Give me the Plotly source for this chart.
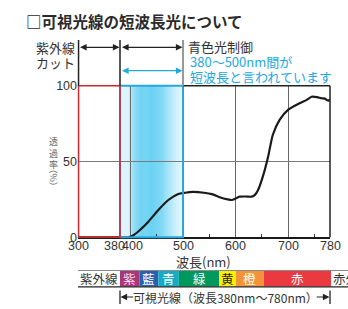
import numpy as np
import plotly.graph_objects as go

# ---------------- data ----------------
WAVELENGTH = [300, 340, 380, 396, 405, 418, 434, 453, 472, 491, 504, 519, 540, 555, 570,
              585, 593, 600, 608, 620, 631, 637, 643, 652, 662, 671, 684, 700, 722, 735,
              745, 755, 764, 770, 777, 780]
TRANSMITTANCE = [0, 0, 0, 0, 1.2, 4.8, 10.3, 18, 24.6, 28.6, 29.4, 29.9, 29.4, 28.5, 26.4,
                 25, 24.6, 25.6, 26.8, 26.9, 26.8, 28, 31.2, 40, 53, 67.5, 77.4, 84, 88.4, 90.5,
                 92.7, 92.5, 91.7, 91.5, 90.1, 91]

X_TICKS = [300, 380, 400, 500, 600, 700, 780]
X_TICK_LABELS = ["300", "380", "400", "500", "600", "700", "780"]
X_GRID = [400, 500, 600, 700]
Y_TICKS = [0, 50, 100]
MINOR_TICKS = [450, 550, 650, 750]

BAND_LABELS = ["紫外線", "紫", "藍", "青", "緑", "黄", "橙", "赤"]
BAND_EDGES = [300, 380, 417, 453, 492, 569, 601, 654, 782]
BAND_COLORS = ["#ffffff", "#a8377a", "#2961ae", "#14abc4", "#00985f", "#fff000", "#f39438", "#ea3a3f"]
BAND_TEXT_COLORS = ["#333333", "#f6dce8", "#ffffff", "#ffffff", "#ffffff", "#222222", "#ffffff", "#ffffff"]
IR_LABEL = "赤外線"
IR_END = 900

GRAD_NM = [380, 396, 400, 406, 420, 445, 460, 480, 500]
GRAD_LEVEL = [0.22, 0.25, 0.4, 0.75, 0.95, 1.0, 0.85, 0.45, 0.15]

# ---------------- layout geometry ----------------
W, H = 348, 309
ML = 78
PX_PER_NM = 0.525
X_MIN, X_MAX = 300, 780
PLOT_RIGHT = ML + (X_MAX - X_MIN) * PX_PER_NM
PLOT_TOP, PLOT_BOTTOM = 85.7, 237.3


def px_x(px):
    return (px - ML) / (W - ML)


def px_y(py):
    return (H - py) / H


def nm_x(nm):
    return px_x(ML + (nm - X_MIN) * PX_PER_NM)


def val_y(v):
    return px_y(PLOT_BOTTOM - v / 100 * (PLOT_BOTTOM - PLOT_TOP))


CJK = "Noto Sans CJK JP"
NUM = "Liberation Sans, Noto Sans CJK JP"
CYAN = "#22a9e1"
TXT = "#333333"

fig = go.Figure()

# transmittance curve
fig.add_trace(go.Scatter(x=WAVELENGTH, y=TRANSMITTANCE, mode="lines",
                         line=dict(color="#1a1a1a", width=2.2, shape="spline", smoothing=0.6),
                         hoverinfo="skip", showlegend=False))

# spectrum band (bars on a second axis pair)
starts = BAND_EDGES[:-1] + [BAND_EDGES[-1]]
widths = [b - a for a, b in zip(BAND_EDGES[:-1], BAND_EDGES[1:])] + [IR_END - BAND_EDGES[-1]]
colors = BAND_COLORS + ["#ffffff"]
fig.add_trace(go.Bar(orientation="h", y=[0] * len(widths), x=widths, base=starts,
                     marker=dict(color=colors, line=dict(width=0)), width=1,
                     xaxis="x2", yaxis="y2", hoverinfo="skip", showlegend=False))

shapes = []
# gradient in the short-wavelength region
lo = np.array([255, 255, 255])
hi = np.array([0x3a, 0xc3, 0xf0])
for a in range(GRAD_NM[0], GRAD_NM[-1]):
    lev = float(np.interp(a + 0.5, GRAD_NM, GRAD_LEVEL))
    c = (lo + (hi - lo) * lev).astype(int)
    shapes.append(dict(type="rect", xref="x", yref="y", x0=a, x1=a + 1, y0=0, y1=100,
                       fillcolor=f"rgb({c[0]},{c[1]},{c[2]})", line=dict(width=0), layer="below"))

# cyan outline 380-500
shapes.append(dict(type="rect", xref="paper", yref="paper", x0=nm_x(380), x1=nm_x(500),
                   y0=val_y(0), y1=val_y(100), line=dict(color="#2aa6da", width=2), layer="above"))
# black frame on right part
shapes.append(dict(type="line", xref="paper", yref="paper", x0=nm_x(500), x1=nm_x(780),
                   y0=val_y(100), y1=val_y(100), line=dict(color="#222222", width=1.5)))
shapes.append(dict(type="line", xref="paper", yref="paper", x0=nm_x(780), x1=nm_x(780),
                   y0=val_y(0), y1=val_y(100), line=dict(color="#222222", width=1.5)))
# red UV-cut rectangle
shapes.append(dict(type="rect", xref="paper", yref="paper", x0=nm_x(300) + 0.002, x1=nm_x(380),
                   y0=val_y(0), y1=val_y(100), line=dict(color="#d2262c", width=1.5), layer="above"))
# vertical guide lines above plot
for nm, col in [(300, "#222222"), (380, "#222222"), (500, "#999999")]:
    dx = 0.002 if nm == 300 else 0
    shapes.append(dict(type="line", xref="paper", yref="paper", x0=nm_x(nm) + dx,
                       x1=nm_x(nm) + dx, y0=px_y(40), y1=val_y(100),
                       line=dict(color=col, width=1.5 if nm != 500 else 2)))
# band borders
shapes.append(dict(type="line", xref="paper", yref="paper", x0=0, x1=1, y0=px_y(270.5), y1=px_y(270.5),
                   line=dict(color="#8a8a8a", width=1.2)))
shapes.append(dict(type="line", xref="paper", yref="paper", x0=0, x1=1, y0=px_y(286.8), y1=px_y(286.8),
                   line=dict(color="#222222", width=1.2)))
# bottom bracket bars
for nm in (380, 780):
    shapes.append(dict(type="line", xref="paper", yref="paper", x0=nm_x(nm), x1=nm_x(nm),
                       y0=px_y(290.5), y1=px_y(304), line=dict(color="#222222", width=1.3)))

annotations = []


def text(x, y, s, size=13, color=TXT, xanchor="left", family=CJK, **kw):
    annotations.append(dict(x=x, y=y, xref="paper", yref="paper", text=s, showarrow=False,
                            xanchor=xanchor, yanchor="middle",
                            font=dict(family=family, size=size, color=color), **kw))


def arrow(x0, x1, y, color, both=True, xref="x"):
    annotations.append(dict(x=x1, y=y, ax=x0, ay=0, xref=xref, yref="paper", axref=xref, ayref="pixel",
                            text="", showarrow=True, arrowhead=2, arrowsize=1.1, arrowwidth=1.2,
                            arrowcolor=color, arrowside="end+start" if both else "end",
                            standoff=0.5, startstandoff=0.5))


# title and headers
annotations.append(dict(x=px_x(24), y=px_y(20.5), xref="paper", yref="paper",
                        text="<b>□可視光線の短波長光について</b>", showarrow=False,
                        xanchor="left", yanchor="middle",
                        font=dict(family=CJK, size=15.5, color="#2b2b2b")))
text(px_x(34), px_y(47.7), "紫外線")
text(px_x(34), px_y(62.7), "カット")
text(px_x(186), px_y(46), "青色光制御")
text(px_x(188), px_y(62), "380～500nm間が", color=CYAN)
text(px_x(188), px_y(76.5), "短波長と言われています", color=CYAN)

arrow(300, 380, px_y(47.3), "#222222")
arrow(380, 500, px_y(47.3), "#222222")
arrow(380, 500, px_y(70.7), CYAN)

# y-axis title (vertical, upright characters)
text(px_x(53), px_y(152.5), "透<br>過<br>率", size=9, color="#666666", xanchor="center")
text(px_x(53), px_y(177.5), "（%）", size=9, color="#666666", xanchor="center", textangle=90)

# x tick labels (380 and 400 nudged apart as in the original)
TICK_SHIFT = {380: -6, 400: 2}
for v, lab in zip(X_TICKS, X_TICK_LABELS):
    annotations.append(dict(x=v, y=px_y(246.3), xref="x", yref="paper", text=lab,
                            showarrow=False, xanchor="center", yanchor="middle",
                            xshift=TICK_SHIFT.get(v, 0),
                            font=dict(family=NUM, size=12.5, color=TXT)))
# x axis title
text(px_x(203), px_y(261.5), "波長(nm)", size=13, xanchor="center")

# band labels
for lab, a, b, tc in zip(BAND_LABELS, BAND_EDGES[:-1], BAND_EDGES[1:], BAND_TEXT_COLORS):
    annotations.append(dict(x=(a + b) / 2, y=px_y(278.7), xref="x2", yref="paper", text=lab,
                            showarrow=False, xanchor="center", yanchor="middle",
                            font=dict(family=CJK, size=12.5, color=tc)))
annotations.append(dict(x=BAND_EDGES[-1], y=px_y(278.7), xref="x2", yref="paper", text=IR_LABEL,
                        showarrow=False, xanchor="left", yanchor="middle", xshift=0,
                        font=dict(family=CJK, size=12.5, color="#333333")))

# bottom visible-light bracket
annotations.append(dict(x=(380 + 780) / 2, y=px_y(297), xref="x", yref="paper",
                        text="可視光線（波長380nm～780nm）", showarrow=False,
                        xanchor="center", yanchor="middle", font=dict(family=CJK, size=12, color=TXT)))
arrow(409, 380, px_y(297), "#222222", both=False)
arrow(751, 780, px_y(297), "#222222", both=False)

fig.update_layout(
    width=W, height=H, autosize=False,
    margin=dict(l=ML, r=0, t=0, b=0, pad=0, autoexpand=False),
    paper_bgcolor="white", plot_bgcolor="white",
    showlegend=False,
    xaxis=dict(domain=[0, px_x(PLOT_RIGHT)], range=[X_MIN, X_MAX], tickvals=X_GRID,
               showticklabels=False, ticks="", showgrid=True, gridcolor="#666666",
               gridwidth=1.3, zeroline=False, showline=True, linecolor="#1a1a1a", linewidth=2,
               anchor="y", automargin=False,
               minor=dict(tickvals=MINOR_TICKS, ticks="inside", ticklen=3, tickwidth=1,
                          tickcolor="#333333", showgrid=False),
               fixedrange=True),
    yaxis=dict(domain=[px_y(PLOT_BOTTOM), px_y(PLOT_TOP)], range=[0, 100], tickvals=Y_TICKS,
               ticks="", showgrid=True, gridcolor="#7a7a7a", gridwidth=1.4, zeroline=False,
               showline=False, tickfont=dict(family=NUM, size=12.5, color=TXT), anchor="x",
               automargin=False, fixedrange=True),
    xaxis2=dict(domain=[0, 1], range=[X_MIN, X_MIN + (W - ML) / PX_PER_NM], visible=False,
                anchor="y2", fixedrange=True, automargin=False),
    yaxis2=dict(domain=[px_y(286.8), px_y(270.5)], range=[-0.5, 0.5], visible=False,
                anchor="x2", fixedrange=True, automargin=False),
    shapes=shapes,
    annotations=annotations,
)

fig.write_html("out.html", config={"responsive": False, "displayModeBar": False},
               post_script="document.body.style.margin='0';document.body.style.padding='0';"
                           "document.body.style.overflow='hidden';")
